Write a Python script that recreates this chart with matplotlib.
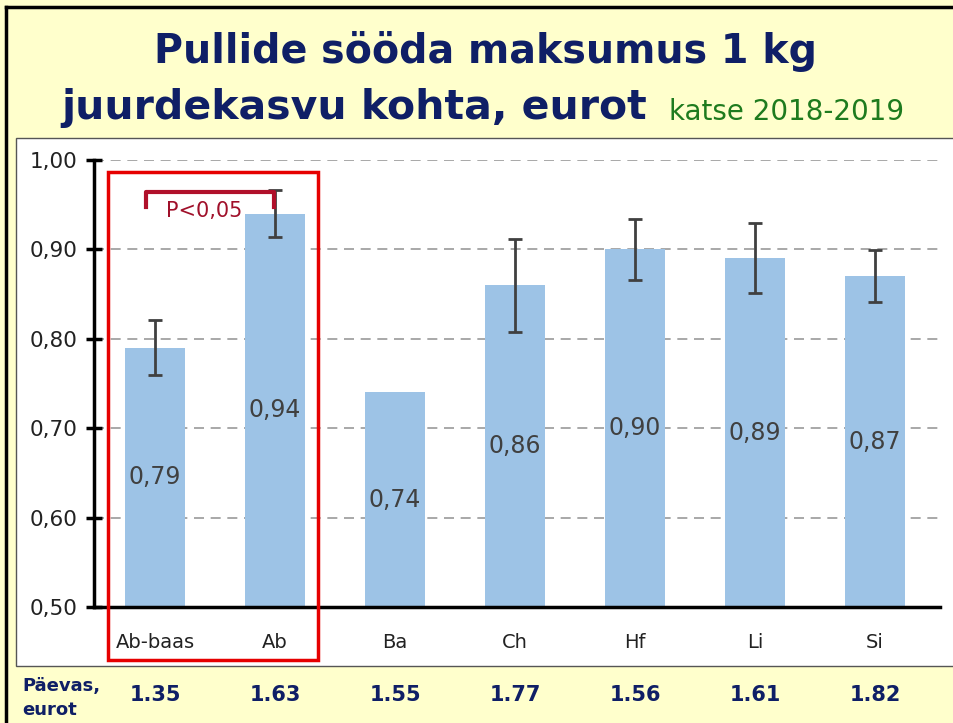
import matplotlib.pyplot as plt
from matplotlib.patches import Rectangle
from matplotlib.lines import Line2D
import matplotlib.transforms as mtransforms

# andmed
kategooriad = ['Ab-baas', 'Ab', 'Ba', 'Ch', 'Hf', 'Li', 'Si']
maksumus = [0.79, 0.94, 0.74, 0.86, 0.90, 0.89, 0.87]
vead = [0.031, 0.026, 0.0, 0.052, 0.034, 0.039, 0.029]
paevas = ['1.35', '1.63', '1.55', '1.77', '1.56', '1.61', '1.82']
yticks = [0.5, 0.6, 0.7, 0.8, 0.9, 1.0]

navy = '#0f1f66'
fig = plt.figure(figsize=(9.54, 7.23), dpi=100, facecolor='#ffffcc')
W, H = 954, 723

def fx(px):
    return px / W

def fy(py):
    return 1 - py / H

# valge paneel ja raamid
fig.patches.append(Rectangle((fx(16), fy(666)), fx(954 - 16), (666 - 138) / H,
                             transform=fig.transFigure, facecolor='white',
                             edgecolor='#555555', linewidth=1, zorder=-5))
fig.lines.append(Line2D([fx(6), fx(6)], [0, fy(7)], transform=fig.transFigure,
                        color='black', linewidth=2.5, zorder=-4))
fig.lines.append(Line2D([fx(6), 1], [fy(7), fy(7)], transform=fig.transFigure,
                        color='black', linewidth=2.5, zorder=-4))

ax = fig.add_axes([fx(94), fy(607), fx(940 - 94), (607 - 160) / H])
ax.set_facecolor('none')
x = list(range(len(kategooriad)))
bars = ax.bar(x, [v - 0.5 for v in maksumus], bottom=0.5, width=0.5, color='#9dc3e6', zorder=2)
for i in x:
    if vead[i] > 0:
        ax.errorbar(i, maksumus[i], yerr=vead[i], color='#404040', capsize=5,
                    elinewidth=2, capthick=2, zorder=3)
ax.bar_label(bars, labels=[f'{v:.2f}'.replace('.', ',') for v in maksumus],
             label_type='center', fontsize=17, color='#404040')

ax.set_xlim(-0.508, 6.54)
ax.set_ylim(0.5, 1.0)
ax.set_yticks(yticks)
ax.set_yticklabels([f'{t:.2f}'.replace('.', ',') for t in yticks], fontsize=15.5, color='#222222')
ax.set_xticks(x)
ax.set_xticklabels(kategooriad, fontsize=14, color='#222222')
ax.tick_params(axis='x', length=0, pad=19)
ax.tick_params(axis='y', direction='inout', length=12, width=2.5, pad=6)
ax.grid(axis='y', linestyle='--', color='#999999', linewidth=1.2, dashes=(6, 4))
for s in ['top', 'right']:
    ax.spines[s].set_visible(False)
ax.spines['left'].set_linewidth(2.5)
ax.spines['bottom'].set_linewidth(2.5)
ax.spines['bottom'].set_zorder(4)

# punane raam ja P-väärtus
ax.add_patch(Rectangle((-0.392, 0.4407), 1.75, 0.546, fill=False, edgecolor='#e60000',
                       linewidth=2.5, clip_on=False, zorder=5))
ax.plot([-0.075, -0.075, 0.99, 0.99], [0.947, 0.964, 0.964, 0.947], color='#b0102a',
        linewidth=3, clip_on=False, zorder=5)
ax.text(0.41, 0.943, 'P<0,05', color='#a0102a', fontsize=15, ha='center', va='center')

# pealkiri
fig.text(fx(486), fy(52), 'Pullide sööda maksumus 1 kg', ha='center', va='center',
         fontsize=28.5, fontweight='bold', color=navy)
fig.text(fx(354), fy(108), 'juurdekasvu kohta, eurot', ha='center', va='center',
         fontsize=29.5, fontweight='bold', color=navy)
fig.text(fx(787), fy(112), 'katse 2018-2019', ha='center', va='center',
         fontsize=20, color='#1e7b1e')

# päevas, eurot
fig.text(fx(22), fy(686), 'Päevas,', ha='left', va='center', fontsize=13,
         fontweight='bold', color=navy)
fig.text(fx(22), fy(710), 'eurot', ha='left', va='center', fontsize=13,
         fontweight='bold', color=navy)
trans = mtransforms.blended_transform_factory(ax.transData, fig.transFigure)
for i, p in enumerate(paevas):
    fig.text(i, fy(695), p, transform=trans, ha='center', va='center', fontsize=15,
             fontweight='bold', color=navy)

fig.savefig('out.png', dpi=100, facecolor=fig.get_facecolor())
